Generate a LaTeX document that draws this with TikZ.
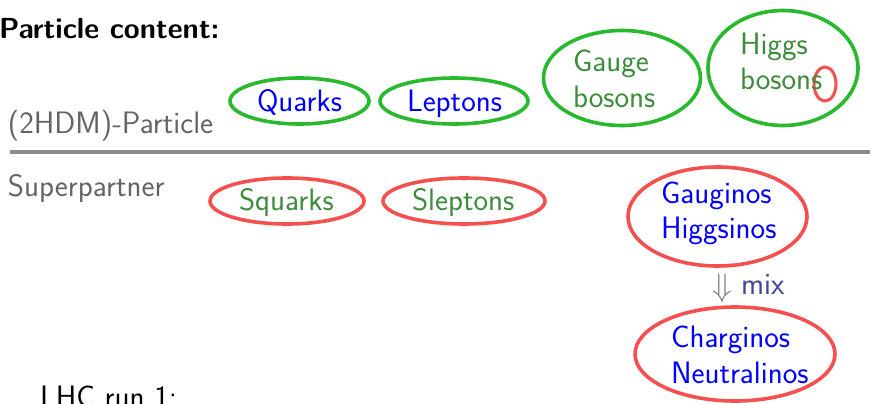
\documentclass[tikz,border=0pt]{standalone}
\usepackage{fontspec}
\usepackage{graphicx}
\usetikzlibrary{shapes.geometric}
\definecolor{ringgreen}{RGB}{40,185,45}
\definecolor{ringred}{RGB}{245,80,80}
\definecolor{txtgreen}{RGB}{60,140,60}
\definecolor{txtblue}{RGB}{0,0,255}
\definecolor{txtgray}{RGB}{100,100,100}
\definecolor{mixcol}{RGB}{70,70,150}
\begin{document}
\begin{tikzpicture}[x=1pt,y=-1pt,
  every node/.style={font=\sffamily\fontsize{31}{37}\selectfont, inner sep=0pt, outer sep=0pt},
  gring/.style={ellipse, draw=ringgreen, line width=3.6pt},
  rring/.style={ellipse, draw=ringred, line width=3.6pt},
  lbl/.style={anchor=base west}]
\useasboundingbox (0,0) rectangle (870,404);
% headings
\node[lbl, font=\sffamily\bfseries\fontsize{29}{34}\selectfont] (title) at (-1,39) {Particle content:};
\node[lbl, text=txtgray] (part) at (8,133) {(2HDM)-Particle};
\node[lbl, text=txtgray] (super) at (8,196) {Superpartner};
\coordinate (lineL) at (10,152);
\coordinate (lineR) at (870,152);
\draw[line width=3.6pt, draw=black!45] (lineL) -- (lineR);
% particle rings
\node[gring, minimum width=139pt, minimum height=46pt] (quarks) at (299.5,101) {};
\node[gring, minimum width=148pt, minimum height=46pt] (leptons) at (454,101) {};
\node[gring, minimum width=157pt, minimum height=95pt] (gauge) at (622,78) {};
\node[gring, minimum width=150pt, minimum height=115pt] (higgs) at (783,68) {};
\node[rring, minimum width=22pt, minimum height=34pt, line width=3pt] (hs) at (825,84) {};
\node[lbl, text=txtblue] (quarksT) at (257,111) {Quarks};
\node[lbl, text=txtblue] (leptonsT) at (407,111) {Leptons};
\node[lbl, text=txtgreen] (gaugeA) at (573,72) {Gauge};
\node[lbl, text=txtgreen] (gaugeB) at (573,107) {bosons};
\node[lbl, text=txtgreen] (higgsA) at (740,55) {Higgs};
\node[lbl, text=txtgreen] (higgsB) at (740,89) {bosons};
% superpartner rings
\node[rring, minimum width=154pt, minimum height=46pt] (squarks) at (287,201) {};
\node[rring, minimum width=162pt, minimum height=46pt] (sleptons) at (464,201) {};
\node[rring, minimum width=179pt, minimum height=99pt] (gaugino) at (717.5,216.5) {};
\node[rring, minimum width=200pt, minimum height=94pt] (chargino) at (735,354) {};
\node[lbl, text=txtgreen] (squarksT) at (239,210) {Squarks};
\node[lbl, text=txtgreen] (sleptonsT) at (412,210) {Sleptons};
\node[lbl, text=txtblue] (gauginoA) at (661,203) {Gauginos};
\node[lbl, text=txtblue] (gauginoB) at (661,238) {Higgsinos};
\node[lbl, text=black!50] (arrow) at (712,296) {\scalebox{1.3}{$\Downarrow$}};
\node[lbl, text=mixcol] (mix) at (741,294) {mix};
\node[lbl, text=txtblue] (charginoA) at (671,347) {Charginos};
\node[lbl, text=txtblue] (charginoB) at (671,383) {Neutralinos};
\node[lbl, text=black] (lhc) at (40,407) {LHC run 1:};
\end{tikzpicture}
\end{document}
